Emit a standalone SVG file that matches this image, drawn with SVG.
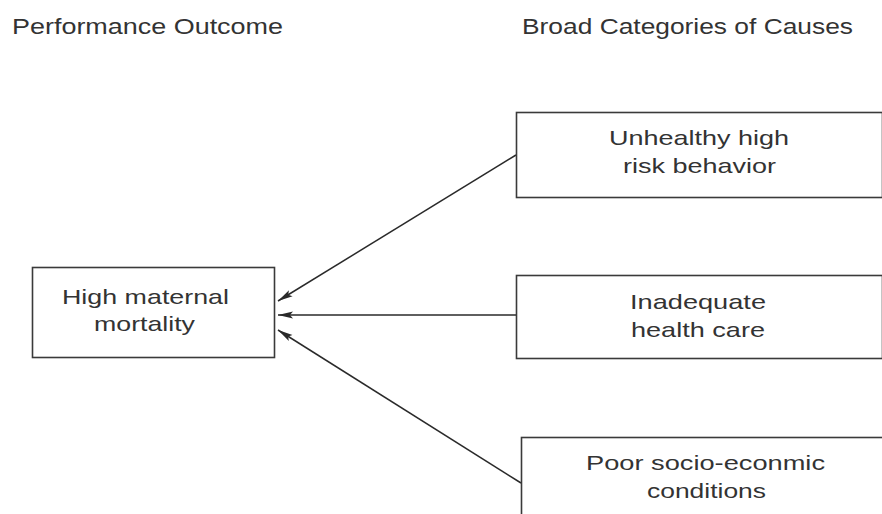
<svg xmlns="http://www.w3.org/2000/svg" width="882" height="514" viewBox="0 0 882 514">
<style>
  .box { fill: #ffffff; stroke: #3a3a3a; stroke-width: 1.6; }
  .lbl { font-family: "Liberation Sans", Arial, sans-serif; font-size: 21px; fill: #333333; }
  .hdr { font-family: "Liberation Sans", Arial, sans-serif; font-size: 22px; fill: #333333; }
  .conn { stroke: #2a2a2a; stroke-width: 1.5; fill: none; marker-end: url(#arrow); }
</style>
<defs>
  <marker id="arrow" markerUnits="userSpaceOnUse" markerWidth="16" markerHeight="8" refX="15" refY="4" orient="auto">
    <path d="M0,0.5 L15,4 L0,7.5 L3,4 z" fill="#2a2a2a"/>
  </marker>
</defs>
<rect width="882" height="514" fill="#ffffff"/>
<g id="headers">
  <text class="hdr" x="12" y="34" textLength="271" lengthAdjust="spacingAndGlyphs">Performance Outcome</text>
  <text class="hdr" x="522" y="34" textLength="331" lengthAdjust="spacingAndGlyphs">Broad Categories of Causes</text>
</g>
<g id="connectors">
  <line class="conn" x1="516" y1="155" x2="278" y2="301"/>
  <line class="conn" x1="516" y1="315" x2="278" y2="315"/>
  <line class="conn" x1="521" y1="483" x2="278" y2="330"/>
</g>
<g id="node-outcome">
  <rect class="box" x="32.5" y="267.5" width="242" height="90"/>
  <text class="lbl" x="62" y="304" textLength="167" lengthAdjust="spacingAndGlyphs">High maternal</text>
  <text class="lbl" x="94" y="331" textLength="101" lengthAdjust="spacingAndGlyphs">mortality</text>
</g>
<g id="node-behavior">
  <rect class="box" x="516.5" y="112.5" width="366" height="85"/>
  <text class="lbl" x="609" y="145" textLength="180" lengthAdjust="spacingAndGlyphs">Unhealthy high</text>
  <text class="lbl" x="623" y="173" textLength="153" lengthAdjust="spacingAndGlyphs">risk behavior</text>
</g>
<g id="node-healthcare">
  <rect class="box" x="516.5" y="275.5" width="366" height="83"/>
  <text class="lbl" x="630" y="309" textLength="136" lengthAdjust="spacingAndGlyphs">Inadequate</text>
  <text class="lbl" x="631" y="337" textLength="134" lengthAdjust="spacingAndGlyphs">health care</text>
</g>
<g id="node-socioeconomic">
  <rect class="box" x="521.5" y="437.5" width="362" height="100"/>
  <text class="lbl" x="586" y="470" textLength="239" lengthAdjust="spacingAndGlyphs">Poor socio-econmic</text>
  <text class="lbl" x="647" y="498" textLength="119" lengthAdjust="spacingAndGlyphs">conditions</text>
</g>
</svg>
